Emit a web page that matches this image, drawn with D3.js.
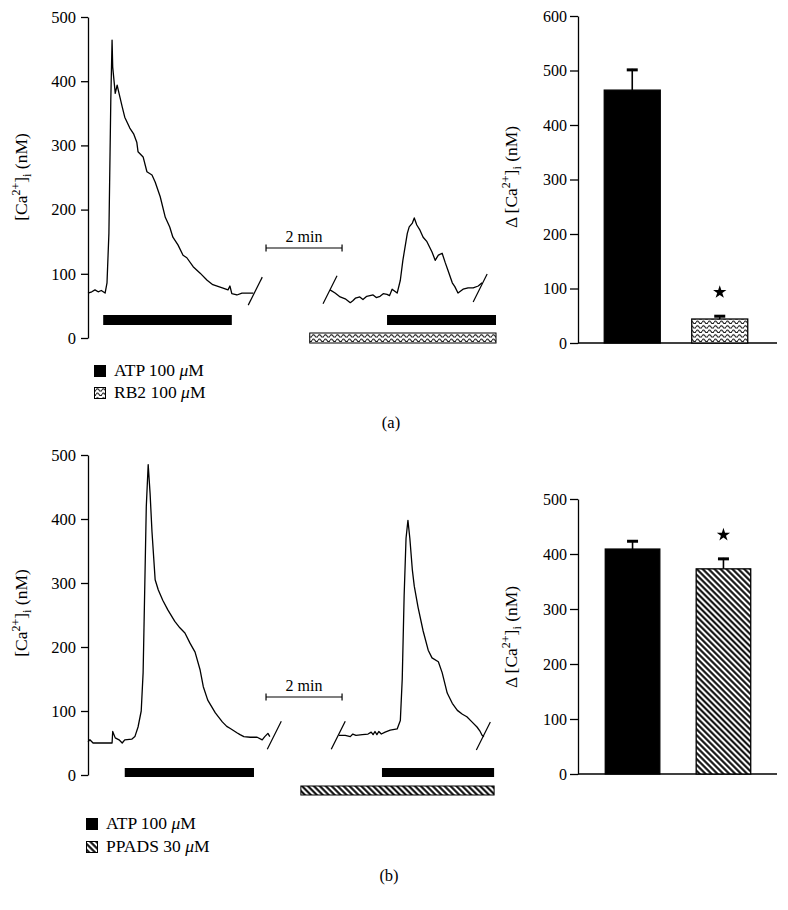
<!DOCTYPE html>
<html><head><meta charset="utf-8">
<script src="https://cdn.jsdelivr.net/npm/d3@7"></script>
<style>
body{margin:0;background:#fff}
svg{display:block}
text{font-family:"Liberation Serif","Times New Roman",serif;fill:#000}
</style>
</head><body>
<svg id="c" width="788" height="910"></svg>
<script>
// ---------- DATA ----------
const traceTicks = [0, 100, 200, 300, 400, 500];
const barTicksA = [0, 100, 200, 300, 400, 500, 600];
const barTicksB = [0, 100, 200, 300, 400, 500];

// time (s) / [Ca2+]i (nM) – panel (a)
const timeA1 = [0,6,11,16,21,27,30,33,36,38,39,43,46,49,54,58,66,72,77,79,87,93,101,106,114,122,129,134,142,150,156,166,177,188,197,212,221,224,227,235,243,253,261];
const caA1   = [70,72,75,72,74,70,86,163,371,464,422,381,394,381,360,344,327,318,305,290,282,259,254,243,220,188,173,157,145,129,125,111,101,90,83,78,75,81,69,67,70,70,70];
const timeA2 = [382,390,398,406,414,418,422,425,429,434,440,445,450,455,461,466,472,476,480,488,493,497,504,507,512,515,519,524,529,535,543,548,553,559,564,568,575,579,584,592,600,608,616,622];
const caA2   = [75,70,64,61,55,58,62,63,64,60,65,66,67,63,65,69,68,66,76,70,90,121,163,173,179,187,176,168,157,150,134,121,129,132,117,106,86,80,70,76,78,78,81,86];

// panel (b)
const timeB1 = [0,3,8,38,39,43,49,54,58,69,74,79,84,87,88,92,95,98,101,106,111,118,126,137,145,153,161,169,177,182,189,201,212,219,224,232,235,240,246,256,267,275,279,284,287];
const caB1   = [52,55,50,50,68,58,55,50,55,56,60,75,100,160,211,419,485,440,380,305,289,273,258,240,230,222,206,192,164,138,117,97,83,76,73,68,66,63,60,59,59,55,60,65,60];
const timeB2 = [396,406,414,418,423,433,442,447,450,453,456,459,463,469,477,488,493,496,499,502,505,508,512,515,521,529,537,543,553,559,567,575,583,591,598,606,614,619,622,625];
const caB2   = [62,62,60,64,62,63,64,67,63,68,63,68,64,67,70,72,85,150,280,370,398,370,320,295,262,225,195,183,177,160,128,112,101,95,91,83,75,68,62,60];

// axis breaks [time, value]
const breaksA = [[264,73],[382,75],[619,78]];
const breaksB = [[294,62],[395,62],[624,61]];

// drug application periods [start, end] (s)
const atpA  = [[24,227],[472,644]];
const rb2A  = [[350,644]];
const atpB  = [[58,262],[464,641]];
const ppadsB = [[336,641]];
const scaleBar = [281, 401]; // 2 min

// bar charts
const barCats = ["ATP", "Antagonist"];
const meansA = [464, 44];
const errsA  = [39, 7];
const meansB = [409, 373];
const errsB  = [16, 20];

// ---------- DRAW ----------
const svg = d3.select("#c");
const defs = svg.append("defs");
const wave = defs.append("pattern").attr("id","wave").attr("patternUnits","userSpaceOnUse")
  .attr("width",6).attr("height",4.5);
wave.append("rect").attr("width",6).attr("height",4.5).attr("fill","#fff");
wave.append("path").attr("d","M0 3 Q1.5 0.4 3 3 T6 3").attr("fill","none").attr("stroke","#000").attr("stroke-width",1);
const hatch = defs.append("pattern").attr("id","hatch").attr("patternUnits","userSpaceOnUse")
  .attr("width",4.2).attr("height",4.2).attr("patternTransform","rotate(-45)");
hatch.append("rect").attr("width",4.2).attr("height",4.2).attr("fill","#fff");
hatch.append("line").attr("x1",2.1).attr("x2",2.1).attr("y1",-1).attr("y2",6).attr("stroke","#000").attr("stroke-width",2);

function yTitle(x, y, delta) {
  const t = svg.append("text").attr("transform",`translate(${x},${y}) rotate(-90)`)
    .attr("text-anchor","middle").attr("font-size",17.5);
  t.append("tspan").text((delta ? "\u0394 " : "") + "[Ca");
  t.append("tspan").attr("font-size",12).attr("dy",-7).text("2+");
  t.append("tspan").attr("dy",7).text("]");
  t.append("tspan").attr("font-size",12).attr("dy",4).text("i");
  t.append("tspan").attr("dy",-4).text(" (nM)");
}

function styleAxis(g, fs) {
  g.selectAll(".domain").attr("stroke","#000").attr("stroke-width",1.3);
  g.selectAll(".tick line").attr("stroke","#000").attr("stroke-width",1.3);
  g.selectAll(".tick text").attr("font-size",fs).attr("font-family","Liberation Serif, serif").attr("fill","#000");
}

function tracePanel(o) {
  const x = d3.scaleLinear().domain([0,644]).range([o.x0, o.x1]);
  const y = d3.scaleLinear().domain([0,500]).range([o.yZero, o.yTop]);
  const g = svg.append("g");
  const ax = g.append("g").attr("transform",`translate(${o.x0},0)`)
    .call(d3.axisLeft(y).tickValues(traceTicks).tickSize(7).tickSizeOuter(0).tickPadding(5));
  styleAxis(ax, 16.5);
  const line = d3.line().x(d => x(d[0])).y(d => y(d[1]));
  o.segs.forEach(s => {
    g.append("path").datum(d3.zip(s[0], s[1])).attr("d", line)
      .attr("fill","none").attr("stroke","#000").attr("stroke-width",1.3).attr("stroke-linejoin","round");
  });
  o.breaks.forEach(b => {
    const cx = x(b[0]), cy = y(b[1]);
    g.append("line").attr("x1",cx-7).attr("y1",cy+14).attr("x2",cx+7).attr("y2",cy-14)
      .attr("stroke","#000").attr("stroke-width",1.2);
  });
  o.atp.forEach(p => g.append("rect").attr("x",x(p[0])).attr("width",x(p[1])-x(p[0]))
    .attr("y",o.yZero+o.atpRow).attr("height",o.rowH).attr("fill","#000"));
  o.antag.forEach(p => g.append("rect").attr("x",x(p[0])).attr("width",x(p[1])-x(p[0]))
    .attr("y",o.yZero+o.antRow).attr("height",o.rowH).attr("fill",`url(#${o.pattern})`)
    .attr("stroke","#000").attr("stroke-width",1));
  // scale bar
  const sx0 = x(scaleBar[0]), sx1 = x(scaleBar[1]);
  g.append("line").attr("x1",sx0).attr("x2",sx1).attr("y1",o.sbY).attr("y2",o.sbY).attr("stroke","#000").attr("stroke-width",1.2);
  [sx0, sx1].forEach(v => g.append("line").attr("x1",v).attr("x2",v).attr("y1",o.sbY-3.5).attr("y2",o.sbY+3.5).attr("stroke","#000").attr("stroke-width",1.2));
  g.append("text").attr("x",(sx0+sx1)/2).attr("y",o.sbY-6).attr("text-anchor","middle").attr("font-size",16).text("2 min");
}

function barPanel(o) {
  const x = d3.scaleBand().domain(barCats).range([o.x0, o.x1]).paddingInner(o.pin).paddingOuter(0.3);
  const y = d3.scaleLinear().domain([0, o.max]).range([o.yZero, o.yTop]);
  const g = svg.append("g");
  const ax = g.append("g").attr("transform",`translate(${o.x0},0)`)
    .call(d3.axisLeft(y).tickValues(o.ticks).tickSize(8).tickSizeOuter(0).tickPadding(3));
  styleAxis(ax, 16);
  g.append("line").attr("x1",o.x0).attr("x2",o.xEnd).attr("y1",o.yZero).attr("y2",o.yZero)
    .attr("stroke","#000").attr("stroke-width",1.3);
  barCats.forEach((c, i) => {
    const bx = x(c), bw = x.bandwidth(), cx = bx + bw/2;
    const top = y(o.means[i]), et = y(o.means[i] + o.errs[i]);
    g.append("line").attr("x1",cx).attr("x2",cx).attr("y1",top).attr("y2",et).attr("stroke","#000").attr("stroke-width",1.6);
    g.append("line").attr("x1",cx-5.5).attr("x2",cx+5.5).attr("y1",et+1).attr("y2",et+1).attr("stroke","#000").attr("stroke-width",3);
    g.append("rect").attr("x",bx).attr("width",bw).attr("y",top).attr("height",o.yZero-top)
      .attr("fill", i === 0 ? "#000" : `url(#${o.pattern})`).attr("stroke","#000").attr("stroke-width",1.3);
    if (i === 1) {
      g.append("path").attr("d", d3.symbol(d3.symbolStar, 55)())
        .attr("transform",`translate(${cx},${et-23})`).attr("fill","#000");
    }
  });
}

function legend(x, y1, y2, label2, pattern) {
  svg.append("rect").attr("x",x).attr("y",y1-11).attr("width",12).attr("height",12).attr("fill","#000");
  svg.append("rect").attr("x",x+0.5).attr("y",y2-10.5).attr("width",11).attr("height",11)
    .attr("fill",`url(#${pattern})`).attr("stroke","#000").attr("stroke-width",1);
  const t1 = svg.append("text").attr("x",x+20).attr("y",y1).attr("font-size",17.5);
  t1.append("tspan").text("ATP 100 ");
  t1.append("tspan").attr("font-style","italic").text("\u03bc");
  t1.append("tspan").text("M");
  const t2 = svg.append("text").attr("x",x+20).attr("y",y2).attr("font-size",17.5);
  t2.append("tspan").text(label2 + " ");
  t2.append("tspan").attr("font-style","italic").text("\u03bc");
  t2.append("tspan").text("M");
}

// Panel (a)
tracePanel({x0:88, x1:496, yTop:17, yZero:338,
  segs:[[timeA1,caA1],[timeA2,caA2]], breaks:breaksA, atp:atpA, antag:rb2A, pattern:"wave",
  atpRow:-23, antRow:-5, rowH:10, sbY:248});
yTitle(27, 177, false);
barPanel({x0:578, x1:774, xEnd:777, yTop:16, yZero:343, max:600, ticks:barTicksA,
  means:meansA, errs:errsA, pattern:"wave", pin:0.36});
yTitle(517, 177, true);
legend(94, 376, 398, "RB2 100", "wave");
svg.append("text").attr("x",391).attr("y",428).attr("text-anchor","middle").attr("font-size",16.5).text("(a)");

// Panel (b)
tracePanel({x0:88, x1:496, yTop:455, yZero:775,
  segs:[[timeB1,caB1],[timeB2,caB2]], breaks:breaksB, atp:atpB, antag:ppadsB, pattern:"hatch",
  atpRow:-7, antRow:11, rowH:9, sbY:697});
yTitle(27, 613, false);
barPanel({x0:578, x1:778, xEnd:777, yTop:499, yZero:774, max:500, ticks:barTicksB,
  means:meansB, errs:errsB, pattern:"hatch", pin:0.4});
yTitle(517, 637, true);
legend(86, 829, 852, "PPADS 30", "hatch");
svg.append("text").attr("x",389).attr("y",881).attr("text-anchor","middle").attr("font-size",16.5).text("(b)");
</script>
</body></html>
